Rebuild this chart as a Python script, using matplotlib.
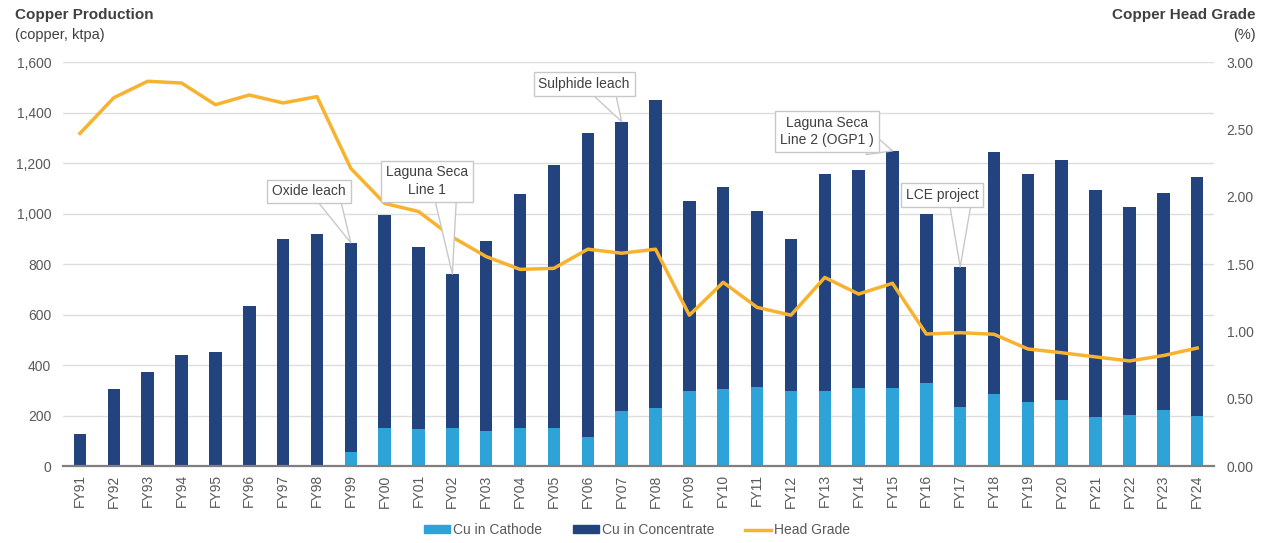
import numpy as np
import matplotlib
matplotlib.use("Agg")
import matplotlib.pyplot as plt
from matplotlib.patches import Patch
from matplotlib.lines import Line2D
from matplotlib.ticker import FuncFormatter, MultipleLocator

plt.rcParams["font.family"] = ["Liberation Sans", "DejaVu Sans"]

years = ["FY91", "FY92", "FY93", "FY94", "FY95", "FY96", "FY97", "FY98", "FY99",
         "FY00", "FY01", "FY02", "FY03", "FY04", "FY05", "FY06", "FY07", "FY08",
         "FY09", "FY10", "FY11", "FY12", "FY13", "FY14", "FY15", "FY16", "FY17",
         "FY18", "FY19", "FY20", "FY21", "FY22", "FY23", "FY24"]
total = [127, 306, 374, 439, 450, 634, 900, 920, 884, 995, 869, 760, 890, 1076,
         1191, 1318, 1364, 1448, 1048, 1105, 1011, 898, 1156, 1174, 1248, 998, 788,
         1242, 1158, 1212, 1094, 1024, 1080, 1145]
cathode = [0, 0, 0, 0, 0, 0, 0, 0, 57, 150, 145, 150, 137, 150, 150, 116, 219,
           230, 298, 304, 312, 298, 298, 309, 310, 330, 232, 286, 252, 260, 195,
           202, 222, 199]
grade = [2.47, 2.735, 2.857, 2.844, 2.683, 2.755, 2.696, 2.743, 2.21, 1.95, 1.89,
         1.70, 1.555, 1.46, 1.468, 1.61, 1.58, 1.61, 1.12, 1.364, 1.178, 1.12, 1.40,
         1.277, 1.357, 0.98, 0.99, 0.978, 0.869, 0.841, 0.81, 0.78, 0.82, 0.876]
concentrate = [t - c for t, c in zip(total, cathode)]

# callouts: (year, text, offset in points, relpos of wedge base on box)
callouts = [
    ("FY99", "Oxide leach", (-30, 37), (0.77, 0.0)),
    ("FY02", "Laguna Seca\nLine 1", (-18, 67), (0.72, 0.0)),
    ("FY07", "Sulphide leach", (-27, 27), (0.72, 0.0)),
    ("FY15", "Laguna Seca\nLine 2 (OGP1 )", (-47, 14), (0.95, 0.1)),
    ("FY17", "LCE project", (-13, 52), (0.75, 0.0)),
]

C_CATH = "#2EA3D8"
C_CONC = "#23437F"
C_LINE = "#F7B230"
C_TXT = "#595959"
C_DARK = "#404040"

fig = plt.figure(figsize=(12.66, 5.43), dpi=100)
ax = fig.add_axes([0.0498, 0.1418, 0.9092, 0.744])
x = np.arange(len(years))
w = 0.37
ax.bar(x, cathode, w, color=C_CATH, lw=0, zorder=2)
ax.bar(x, concentrate, w, bottom=cathode, color=C_CONC, lw=0, zorder=2)
ax.set_xlim(-0.5, len(years) - 0.5)
ax.set_ylim(0, 1600)
ax.yaxis.set_major_locator(MultipleLocator(200))
ax.yaxis.set_major_formatter(FuncFormatter(lambda v, p: f"{v:,.0f}"))
ax.grid(axis="y", color="#DDDDDD", lw=1, zorder=0)
ax.set_axisbelow(True)
for s in ["top", "right", "left"]:
    ax.spines[s].set_visible(False)
ax.spines["bottom"].set_color("#7F7F7F")
ax.spines["bottom"].set_linewidth(1.6)
ax.set_xticks(x)
ax.set_xticklabels(years, rotation=90)
ax.tick_params(axis="both", length=0, colors=C_TXT, labelsize=10)
ax.tick_params(axis="x", pad=6)
ax.tick_params(axis="y", pad=8.5)

ax2 = ax.twinx()
ax2.plot(x, grade, color=C_LINE, lw=2.5, zorder=3)
ax2.set_ylim(0, 3.0)
ax2.yaxis.set_major_locator(MultipleLocator(0.5))
ax2.yaxis.set_major_formatter(FuncFormatter(lambda v, p: f"{v:.2f}"))
for s in ax2.spines.values():
    s.set_visible(False)
ax2.tick_params(axis="y", length=0, colors=C_TXT, labelsize=10, pad=9)

for yr, txt, off, rp in callouts:
    i = years.index(yr)
    ax2.annotate(txt, xy=(i, total[i] / 1600 * 3.0), xycoords="data",
                 xytext=off, textcoords="offset points", ha="center", va="center",
                 fontsize=10, color=C_DARK, linespacing=1.3, zorder=5,
                 bbox=dict(boxstyle="square,pad=0.35", fc="white", ec="#C8C8C8", lw=1),
                 arrowprops=dict(arrowstyle="wedge,tail_width=1.6,shrink_factor=0.5",
                                 fc="white", ec="#C8C8C8", lw=1, relpos=rp,
                                 patchA=None, shrinkA=0, shrinkB=0))

fig.text(0.012, 0.972, "Copper Production", fontsize=11, fontweight="bold",
         color=C_DARK, ha="left", va="center")
fig.text(0.012, 0.935, "(copper, ktpa)", fontsize=10.5, color=C_DARK,
         ha="left", va="center")
fig.text(0.992, 0.972, "Copper Head Grade", fontsize=11, fontweight="bold",
         color=C_DARK, ha="right", va="center")
fig.text(0.992, 0.935, "(%)", fontsize=10.5, color=C_DARK, ha="right", va="center")

handles = [Patch(color=C_CATH), Patch(color=C_CONC), Line2D([], [], color=C_LINE, lw=2.5)]
fig.legend(handles, ["Cu in Cathode", "Cu in Concentrate", "Head Grade"],
           loc="center", bbox_to_anchor=(0.503, 0.024), ncol=3, frameon=False,
           fontsize=10, labelcolor=C_TXT, handlelength=1.9, handleheight=0.5,
           handletextpad=0.2, columnspacing=2.2)

fig.savefig("out.png", dpi=100)
